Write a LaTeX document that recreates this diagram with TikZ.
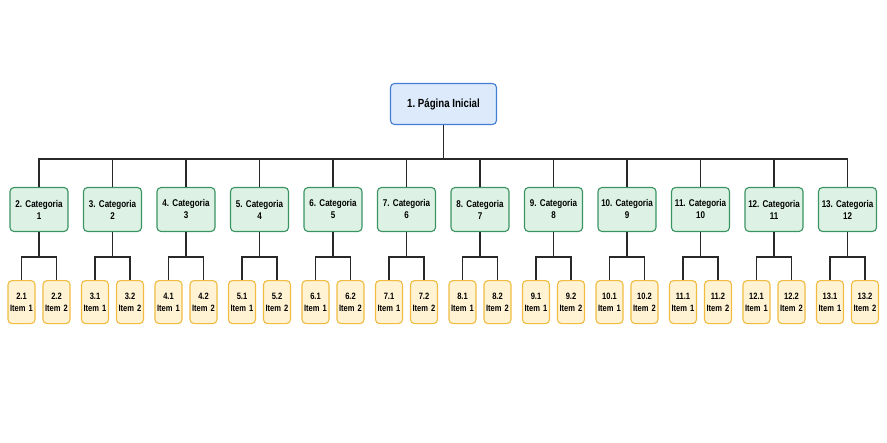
\documentclass[tikz,border=0pt]{standalone}
\usepackage{fontspec}
\setmainfont{Liberation Sans}[FakeStretch=0.82]
\usepackage{xcolor}
\usetikzlibrary{positioning}
\definecolor{rootfill}{RGB}{220, 234, 251}
\definecolor{rootline}{RGB}{70, 125, 212}
\definecolor{catfill}{RGB}{221, 242, 229}
\definecolor{catline}{RGB}{58, 148, 98}
\definecolor{itemfill}{RGB}{255, 243, 212}
\definecolor{itemline}{RGB}{240, 188, 66}
\definecolor{wireline}{RGB}{40, 40, 40}
\frenchspacing
\hyphenpenalty=10000

\begin{document}
\begin{tikzpicture}[
  x=1pt, y=1pt,
  node distance=14.4pt and 14.4pt,
  root/.style={rectangle, draw=rootline, fill=rootfill, line width=1.1pt, rounded corners=4pt, minimum width=106pt, minimum height=41pt, font=\bfseries\fontsize{11.8}{14}\selectfont},
  cat/.style={rectangle, draw=catline, fill=catfill, line width=1.1pt, rounded corners=4pt, text width=56pt, inner xsep=1pt, inner ysep=3pt, align=center, minimum height=44pt, font=\bfseries\fontsize{9.8}{12}\selectfont},
  item/.style={rectangle, draw=itemline, fill=itemfill, line width=1.1pt, rounded corners=4pt, text width=26pt, inner xsep=0.5pt, inner ysep=2pt, align=center, minimum height=43pt, font=\bfseries\fontsize{9.2}{12}\selectfont},
  wire/.style={draw=wireline, line width=1.2pt}
]
\useasboundingbox (0,0) rectangle (887,-443);

% Root
\node[root] (home) at (443.5,-104) {1. Página Inicial};

% Categories
\node[cat] (c1) at (39,-209.5) {2. Categoria\\1};
\node[cat, right=of c1] (c2) {3. Categoria\\2};
\node[cat, right=of c2] (c3) {4. Categoria\\3};
\node[cat, right=of c3] (c4) {5. Categoria\\4};
\node[cat, right=of c4] (c5) {6. Categoria\\5};
\node[cat, right=of c5] (c6) {7. Categoria\\6};
\node[cat, right=of c6] (c7) {8. Categoria\\7};
\node[cat, right=of c7] (c8) {9. Categoria\\8};
\node[cat, right=of c8] (c9) {10. Categoria\\9};
\node[cat, right=of c9] (c10) {11. Categoria\\10};
\node[cat, right=of c10] (c11) {12. Categoria\\11};
\node[cat, right=of c11] (c12) {13. Categoria\\12};

% Items
\node[item, below=48pt of c1, xshift=-17.5pt] (c1a) {2.1\\Item 1};
\node[item, below=48pt of c1, xshift=17.5pt] (c1b) {2.2\\Item 2};
\node[item, below=48pt of c2, xshift=-17.5pt] (c2a) {3.1\\Item 1};
\node[item, below=48pt of c2, xshift=17.5pt] (c2b) {3.2\\Item 2};
\node[item, below=48pt of c3, xshift=-17.5pt] (c3a) {4.1\\Item 1};
\node[item, below=48pt of c3, xshift=17.5pt] (c3b) {4.2\\Item 2};
\node[item, below=48pt of c4, xshift=-17.5pt] (c4a) {5.1\\Item 1};
\node[item, below=48pt of c4, xshift=17.5pt] (c4b) {5.2\\Item 2};
\node[item, below=48pt of c5, xshift=-17.5pt] (c5a) {6.1\\Item 1};
\node[item, below=48pt of c5, xshift=17.5pt] (c5b) {6.2\\Item 2};
\node[item, below=48pt of c6, xshift=-17.5pt] (c6a) {7.1\\Item 1};
\node[item, below=48pt of c6, xshift=17.5pt] (c6b) {7.2\\Item 2};
\node[item, below=48pt of c7, xshift=-17.5pt] (c7a) {8.1\\Item 1};
\node[item, below=48pt of c7, xshift=17.5pt] (c7b) {8.2\\Item 2};
\node[item, below=48pt of c8, xshift=-17.5pt] (c8a) {9.1\\Item 1};
\node[item, below=48pt of c8, xshift=17.5pt] (c8b) {9.2\\Item 2};
\node[item, below=48pt of c9, xshift=-17.5pt] (c9a) {10.1\\Item 1};
\node[item, below=48pt of c9, xshift=17.5pt] (c9b) {10.2\\Item 2};
\node[item, below=48pt of c10, xshift=-17.5pt] (c10a) {11.1\\Item 1};
\node[item, below=48pt of c10, xshift=17.5pt] (c10b) {11.2\\Item 2};
\node[item, below=48pt of c11, xshift=-17.5pt] (c11a) {12.1\\Item 1};
\node[item, below=48pt of c11, xshift=17.5pt] (c11b) {12.2\\Item 2};
\node[item, below=48pt of c12, xshift=-17.5pt] (c12a) {13.1\\Item 1};
\node[item, below=48pt of c12, xshift=17.5pt] (c12b) {13.2\\Item 2};

% Root to categories
\draw[wire] (home.south) -- ++(0,-34) -| (c1.north);
\draw[wire] (home.south) -- ++(0,-34) -| (c2.north);
\draw[wire] (home.south) -- ++(0,-34) -| (c3.north);
\draw[wire] (home.south) -- ++(0,-34) -| (c4.north);
\draw[wire] (home.south) -- ++(0,-34) -| (c5.north);
\draw[wire] (home.south) -- ++(0,-34) -| (c6.north);
\draw[wire] (home.south) -- ++(0,-34) -| (c7.north);
\draw[wire] (home.south) -- ++(0,-34) -| (c8.north);
\draw[wire] (home.south) -- ++(0,-34) -| (c9.north);
\draw[wire] (home.south) -- ++(0,-34) -| (c10.north);
\draw[wire] (home.south) -- ++(0,-34) -| (c11.north);
\draw[wire] (home.south) -- ++(0,-34) -| (c12.north);

% Categories to items
\draw[wire] (c1.south) -- ++(0,-25) -| (c1a.north) (c1.south) ++(0,-25) -| (c1b.north);
\draw[wire] (c2.south) -- ++(0,-25) -| (c2a.north) (c2.south) ++(0,-25) -| (c2b.north);
\draw[wire] (c3.south) -- ++(0,-25) -| (c3a.north) (c3.south) ++(0,-25) -| (c3b.north);
\draw[wire] (c4.south) -- ++(0,-25) -| (c4a.north) (c4.south) ++(0,-25) -| (c4b.north);
\draw[wire] (c5.south) -- ++(0,-25) -| (c5a.north) (c5.south) ++(0,-25) -| (c5b.north);
\draw[wire] (c6.south) -- ++(0,-25) -| (c6a.north) (c6.south) ++(0,-25) -| (c6b.north);
\draw[wire] (c7.south) -- ++(0,-25) -| (c7a.north) (c7.south) ++(0,-25) -| (c7b.north);
\draw[wire] (c8.south) -- ++(0,-25) -| (c8a.north) (c8.south) ++(0,-25) -| (c8b.north);
\draw[wire] (c9.south) -- ++(0,-25) -| (c9a.north) (c9.south) ++(0,-25) -| (c9b.north);
\draw[wire] (c10.south) -- ++(0,-25) -| (c10a.north) (c10.south) ++(0,-25) -| (c10b.north);
\draw[wire] (c11.south) -- ++(0,-25) -| (c11a.north) (c11.south) ++(0,-25) -| (c11b.north);
\draw[wire] (c12.south) -- ++(0,-25) -| (c12a.north) (c12.south) ++(0,-25) -| (c12b.north);

\end{tikzpicture}
\end{document}
